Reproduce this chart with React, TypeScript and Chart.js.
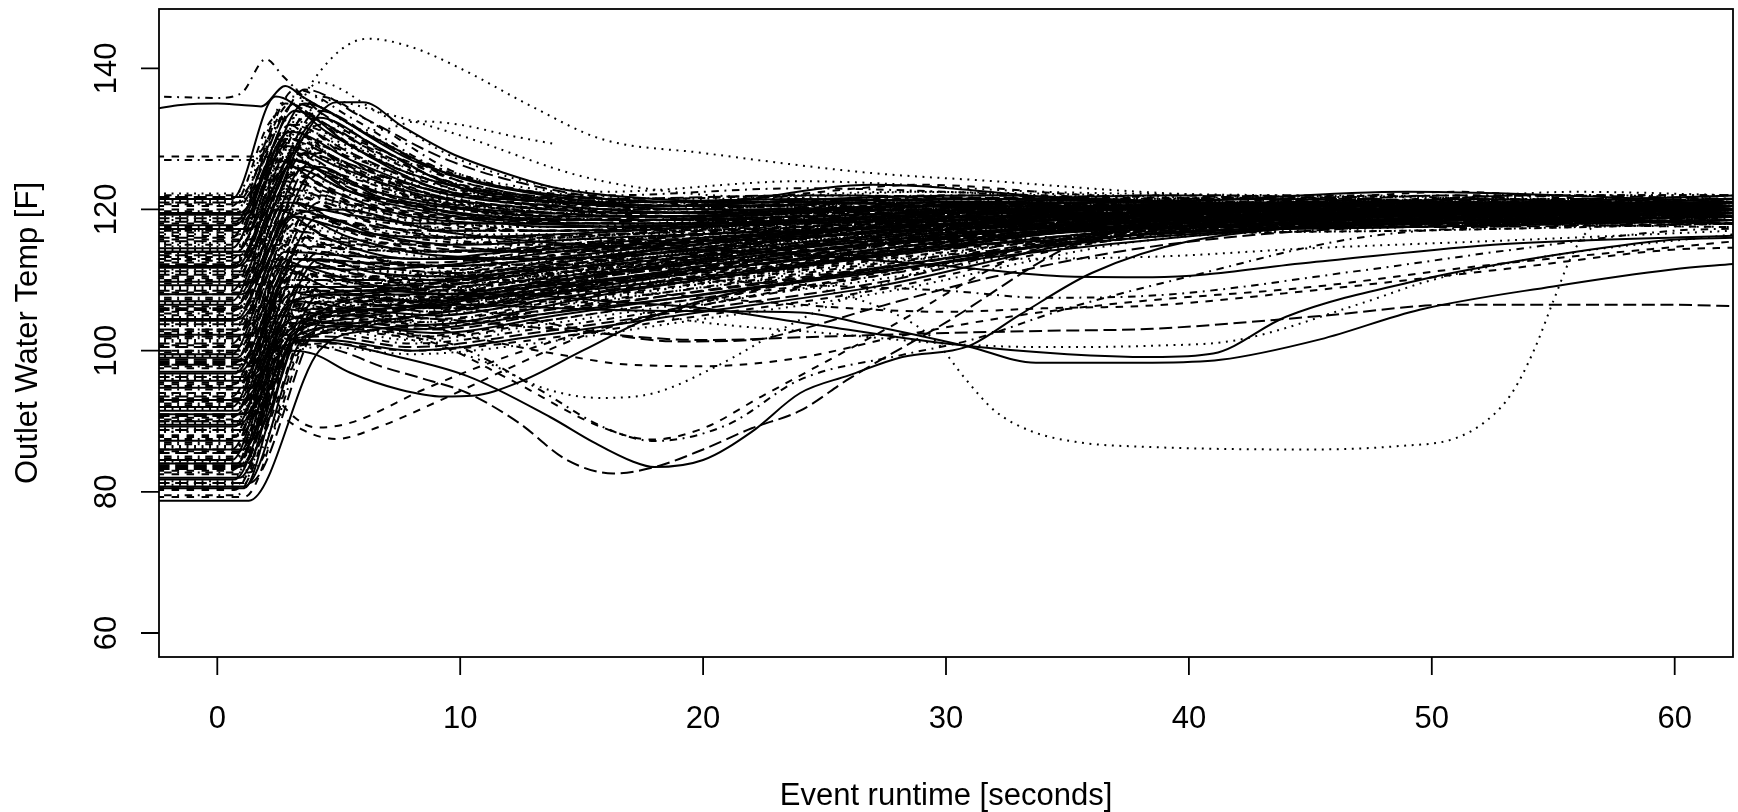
import React, { useEffect, useRef } from "react";
import { Chart, registerables } from "chart.js";
Chart.register(...registerables);

// ---------- axes ----------
const X_MIN = -2.4;
const X_MAX = 62.4;
const Y_MIN = 56.6;
const Y_MAX = 148.4;
const xTicks = [0, 10, 20, 30, 40, 50, 60];
const yTicks = [60, 80, 100, 120, 140];
const xTitle = "Event runtime [seconds]";
const yTitle = "Outlet Water Temp [F]";

// ---------- band series (start value held flat, then rise / decay) ----------
// each row: [start, then values at grid[2..]]
const gridA = [-2.5, 0.6, 2.4, 4.5, 8, 13, 19, 27, 38, 49, 62.5];
const bandA = [
  [121.5, 136, 131, 125, 121.5, 120.5, 123.5, 121, 122.5, 121],
  [120.5, 133, 128, 123.5, 120.5, 119.5, 120.5, 120.5, 119.5, 120.5],
  [119, 131, 127, 122, 120, 120, 121, 119.5, 120, 119],
  [117.5, 129, 125, 121, 119, 118.5, 119.5, 120, 121, 120],
  [116, 130, 124, 120.5, 118.5, 119, 120, 119, 118.5, 118],
  [114.5, 127, 123, 119, 118, 118, 119, 120.5, 120, 121.5],
  [113, 126, 122, 119.5, 117, 117.5, 118.5, 118.5, 119, 119.5],
  [111.5, 125, 121, 118, 116, 117, 119.5, 121, 120.5, 120],
  [110, 123, 119, 116, 115, 116.5, 118, 119, 118, 118.5],
  [108.5, 122, 118.5, 115, 114, 115.5, 117.5, 118, 119.5, 119],
  [107, 120, 116, 113, 113, 114, 117, 119.5, 120, 120.5],
  [105.5, 118, 115, 112, 111.5, 113, 116, 118.5, 119, 118],
  [104, 117, 113, 111, 110.5, 112.5, 115.5, 117.5, 118, 117.5],
  [102.5, 115, 112, 109.5, 110, 112, 115, 118.5, 119.5, 120],
  [101, 113, 110.5, 108.5, 109, 111, 114, 117.5, 117.5, 118],
  [99.5, 112, 109, 107, 108, 110, 113.5, 117.5, 118, 119],
  [98, 110, 108, 106, 107, 109.5, 113, 118, 118.5, 119.5],
  [96.5, 109, 107, 105, 106.5, 109, 112.5, 117, 118, 118.5],
  [95, 107, 106, 104, 106, 108.5, 112, 117.5, 119, 120],
  [93.5, 106, 105, 103.5, 105.5, 108, 111.5, 117, 118, 119],
  [92, 105, 104, 103, 105, 107.5, 111, 116.5, 117.5, 118.5],
  [90.5, 104, 103.5, 102, 104, 107, 110.5, 117, 118, 117.5],
  [89, 103, 103, 101.5, 103.5, 106.5, 110, 116, 117, 118],
  [87.5, 102, 102.5, 101, 103, 106, 110.5, 117, 118, 119.5],
  [86, 101, 102, 100.5, 102.5, 105.5, 109.5, 117.5, 118.5, 118],
  [84.5, 100, 101.5, 100, 102, 105, 109, 116.5, 117.5, 118.5],
  [83, 99, 101, 100, 101.5, 104.5, 108.5, 116, 117, 118],
  [81.5, 98, 100.5, 99.5, 101, 104, 108, 115.5, 117.5, 119],
];

const gridB = [-2.5, 0.9, 3.2, 5.5, 9, 14, 21, 30, 41, 52, 62.5];
const bandB = [
  [122, 137, 133, 126, 122, 121, 122, 121.5, 122, 122],
  [121, 135, 131, 124.5, 121, 120.5, 121.5, 122, 121, 121.5],
  [119.5, 134, 129, 123, 121, 120, 120.5, 120, 121.5, 120],
  [118, 132, 127, 122, 119.5, 119, 121, 120.5, 119.5, 121],
  [116.5, 130, 126, 121.5, 120, 119.5, 120, 121, 120.5, 119.5],
  [115, 131, 125, 121, 118.5, 118.5, 119.5, 119.5, 120, 120.5],
  [113.5, 128, 124, 120, 118, 119, 120.5, 120, 121, 120],
  [112, 127, 122.5, 119.5, 117.5, 118, 119, 121, 119.5, 121],
  [110.5, 125, 121, 118, 117, 118.5, 120, 119, 120, 119.5],
  [109, 124, 120, 117, 116, 117.5, 119, 120, 121, 120.5],
  [107.5, 122, 119, 116, 115, 117, 118.5, 119.5, 119, 121],
  [106, 121, 117, 115, 114, 116, 118, 120.5, 120, 119],
  [104.5, 119, 116, 113.5, 113, 115.5, 118, 119, 120.5, 120],
  [103, 118, 114, 112, 112.5, 115, 117.5, 120, 119, 121],
  [101.5, 116, 113, 111, 112, 114.5, 117, 119.5, 120, 119.5],
  [100, 115, 112, 110, 111, 114, 117.5, 118.5, 120.5, 120],
  [98.5, 113, 111, 109, 110.5, 113.5, 116.5, 119, 119.5, 120.5],
  [97, 112, 110, 108, 110, 113, 116, 120, 121, 120],
  [95.5, 111, 109, 107.5, 109, 112.5, 116.5, 118, 119, 121],
  [94, 110, 108, 107, 109, 112, 116, 119.5, 120, 119.5],
  [92.5, 109, 107.5, 106, 108.5, 111.5, 115.5, 118.5, 120.5, 120],
  [91, 108, 107, 105.5, 108, 111, 115, 119, 119.5, 121],
  [89.5, 107, 106, 105, 107.5, 110.5, 114.5, 118, 120, 120.5],
  [88, 106, 105.5, 104.5, 107, 110, 114, 117.5, 119, 119.5],
  [86.5, 105, 105, 104, 106.5, 110, 115, 118.5, 120.5, 121],
  [85, 104, 104.5, 103.5, 106, 109.5, 113.5, 117, 119, 120],
  [83.5, 103, 104, 103, 105.5, 109, 113, 118, 120, 121],
  [82, 102, 103.5, 102.5, 105, 108.5, 112.5, 116.5, 119, 119.5],
  [80.5, 101, 103, 102, 104.5, 108, 113, 117.5, 119.5, 120.5],
];

const gridC = [-2.5, 1.3, 4.2, 6.5, 10, 16, 24, 34, 44, 55, 62.5];
const bandC = [
  [121.25, 138, 134, 127, 122.5, 124, 122.5, 122, 121.5, 121.5],
  [119.75, 136, 132, 125, 122, 123, 122, 121, 122, 122],
  [118.75, 134, 130, 124, 121.5, 122, 121.5, 120.5, 121, 120.5],
  [117.25, 133, 129, 123, 121, 121.5, 121, 121.5, 120, 121],
  [115.75, 132, 128, 122.5, 120.5, 121, 120.5, 120, 120.5, 120],
  [114.25, 130, 126, 121.5, 120, 120.5, 120, 121, 121.5, 119.5],
  [112.75, 129, 125, 121, 119.5, 120, 119.5, 120.5, 119.5, 120.5],
  [111.25, 128, 124, 120.5, 119, 119.5, 121, 119.5, 120, 121],
  [109.75, 126, 122, 119.5, 118.5, 119, 120, 121, 121, 120],
  [108.25, 125, 121, 119, 118, 118.5, 119.5, 120, 119.5, 121.5],
  [106.75, 124, 120, 118, 117.5, 118, 119, 120.5, 120.5, 119],
  [105.25, 122, 119, 117, 117, 118.5, 120.5, 119, 121, 120],
  [103.75, 121, 118, 116, 116.5, 117.5, 119, 120, 119.5, 121],
  [102.25, 119, 116.5, 115, 116, 117, 118.5, 121, 120, 120.5],
  [100.75, 118, 115.5, 114, 115.5, 117.5, 120, 119.5, 120.5, 119.5],
  [99.25, 117, 114.5, 113, 115, 117, 118.5, 120, 121, 120],
  [97.75, 115, 113, 112, 114.5, 116.5, 119, 120.5, 119, 121],
  [96.25, 114, 112, 111, 114, 116, 118, 119.5, 120, 120.5],
  [94.75, 113, 111, 110.5, 113.5, 116.5, 119.5, 121, 120.5, 119.5],
  [93.25, 112, 110.5, 110, 113, 116, 118.5, 120, 121, 120],
  [91.75, 111, 110, 109.5, 112.5, 115.5, 118, 119, 120, 121],
  [90.25, 110, 109.5, 109, 112, 115, 118, 120.5, 119.5, 120.5],
  [88.75, 109, 109, 108.5, 111.5, 115, 119, 120, 120.5, 120],
  [87.25, 108, 108.5, 108, 111, 114.5, 117.5, 119.5, 121, 121],
  [85.75, 107, 108, 107.5, 111, 114, 117, 120, 120, 119.5],
  [84.25, 106, 107.5, 107, 110.5, 114, 118, 119, 119.5, 120.5],
  [82.75, 105, 107, 106.5, 110, 113.5, 117.5, 120, 120.5, 121],
  [81.25, 104, 106.5, 106, 109.5, 113, 117, 119.5, 120, 120],
  [78.75, 100, 103, 104, 108, 112, 116.5, 119, 120, 120.5],
];

const gridD = [-2.5, 0.8, 2.8, 5, 8.5, 12, 17, 23, 29, 36, 44, 51, 57, 62.5];
const bandD = [
  [120, 135, 131, 126, 123, 121.5, 122, 123.5, 122, 121.5, 122.5, 121.5, 122],
  [118.5, 133, 130, 125, 122, 121, 121.5, 122.5, 121.5, 121, 121.5, 122, 121.5],
  [117, 131, 128, 124, 121.5, 120.5, 121, 121.5, 121, 122, 121, 121.5, 120.5],
  [115.5, 130, 127, 123, 121, 120, 120.5, 121, 120.5, 121, 122, 120.5, 121],
  [114, 129, 126, 122, 120.5, 119.5, 120, 120.5, 121.5, 120.5, 120.5, 121, 120],
  [112.5, 127, 125, 121.5, 120, 119, 119.5, 120, 120, 120, 121, 120, 121.5],
  [111, 126, 124, 121, 119.5, 118.5, 119, 120.5, 119.5, 119.5, 120, 120.5, 120],
  [109.5, 124, 122, 120, 119, 118.5, 119.5, 119.5, 120, 121, 119.5, 121, 119],
  [108, 123, 121, 119, 118.5, 118, 118.5, 119, 119, 120, 120, 119, 120.5],
  [106.5, 121, 119.5, 118, 118, 117.5, 118, 118.5, 120.5, 119, 121, 120, 119.5],
  [105, 120, 118.5, 117, 117, 117, 117.5, 119, 118.5, 118.5, 119.5, 121, 120],
  [103.5, 118, 117, 116, 116.5, 116.5, 117, 118, 119, 120, 118.5, 119.5, 121],
  [102, 117, 116, 115, 115.5, 116, 117, 117.5, 118, 119.5, 120, 119, 118.5],
  [100.5, 115, 114.5, 114, 114.5, 115.5, 116.5, 118, 119.5, 118, 119, 120.5, 119.5],
  [99, 114, 113.5, 113, 114, 115, 116, 117, 118, 119, 120.5, 119, 120],
  [97.5, 113, 112.5, 112, 113, 114.5, 116, 117.5, 117.5, 118.5, 119, 118, 119],
  [96, 112, 111.5, 111, 112.5, 114, 115.5, 116.5, 118.5, 119.5, 118.5, 119.5, 120.5],
  [94.5, 111, 110.5, 110.5, 112, 113.5, 115, 117, 117.5, 118, 119.5, 120, 119],
  [93, 110, 110, 110, 111.5, 113, 114.5, 116, 118, 119, 118, 119, 118],
  [91.5, 109, 109, 109.5, 111, 112.5, 114.5, 116.5, 117.5, 118.5, 119.5, 118.5, 119.5],
  [90, 108, 108.5, 109, 110.5, 112, 114, 115.5, 117, 118, 118.5, 119.5, 120],
  [88.5, 107, 107.5, 108, 110, 112, 113.5, 116, 118, 117.5, 118.5, 118, 119],
  [87, 106, 107, 107.5, 109.5, 111.5, 113, 115, 116.5, 118.5, 119.5, 120, 118.5],
  [85.5, 105, 106, 107, 109, 111, 113, 115.5, 117, 118, 118, 119, 119.5],
  [84, 104, 105.5, 106.5, 108.5, 110.5, 112.5, 114.5, 116, 117.5, 118.5, 118.5, 118],
  [82.5, 103, 105, 106, 108, 110, 112, 114, 116.5, 118, 119, 119.5, 120],
  [81, 102, 104, 105.5, 107.5, 109.5, 112, 115, 117, 117.5, 118, 118.5, 119],
  [79.5, 100, 103, 105, 107, 109, 111.5, 114, 116, 118, 119, 119, 118.5],
];

const gridE = [-2.5, 1.1, 3.6, 6, 9.5, 13.5, 18.5, 25, 32, 39, 47, 54, 62.5];
const bandE = [
  [121.75, 137, 133, 127, 123, 121, 122, 121.5, 122, 121, 122, 121.5],
  [119.25, 135, 131, 125, 122, 120.5, 121.5, 122, 121, 120.5, 121, 122],
  [116.75, 133, 129, 124, 121.5, 120, 121, 120.5, 120.5, 121.5, 120, 121],
  [114.75, 131, 128, 123, 121, 119.5, 120, 121, 121.5, 120, 121.5, 120.5],
  [113.25, 130, 127, 122.5, 120.5, 120, 120.5, 120, 120, 121, 120.5, 119.5],
  [110.75, 128, 125, 121.5, 120, 119.5, 119.5, 121, 119.5, 120, 119.5, 121],
  [109.25, 126, 123, 120.5, 119.5, 119, 120, 119.5, 120.5, 119.5, 120.5, 120],
  [106.25, 124, 121, 119, 118.5, 118.5, 119, 120, 119, 121, 119.5, 119],
  [104.75, 122, 120, 118, 117.5, 118, 118.5, 119, 120, 119.5, 121, 120.5],
  [101.75, 119, 117.5, 116, 116, 117, 118, 118.5, 119.5, 120, 119, 120],
  [98.75, 116, 115, 114, 114.5, 116, 117.5, 119, 118.5, 119.5, 120.5, 119.5],
  [95.75, 113, 112.5, 112, 113, 115, 117, 118, 119, 118.5, 119.5, 121],
  [92.75, 110, 110, 110, 111.5, 114, 116.5, 117.5, 118.5, 120, 119, 120],
  [89.75, 108, 108.5, 108.5, 110.5, 113, 115.5, 117.5, 119, 119, 120, 119.5],
  [86.75, 106, 107, 107.5, 109.5, 112, 115, 117, 118.5, 119.5, 118.5, 120],
  [83.75, 104, 105.5, 106.5, 108.5, 111, 114, 116.5, 118, 119, 119.5, 119],
  [80.75, 102, 104, 105.5, 108, 110.5, 113.5, 116, 117.5, 118.5, 119, 120.5],
  [79.25, 101, 103.5, 105, 107, 110, 113, 115.5, 117, 118, 120, 119.5],
];

const gridF = [-2.5, 0.7, 3.0, 5.5, 9, 14, 20, 28, 37, 47, 56, 62.5];
const bandF = [
  [122.25, 136, 132, 126, 122.5, 121.5, 122.5, 122, 121, 122.5, 122],
  [120.75, 134, 130, 124.5, 121.5, 121, 121.5, 121.5, 122, 121, 121.5],
  [118.25, 132, 128, 123, 121, 120.5, 121, 120.5, 121, 121.5, 120.5],
  [117.75, 131, 127, 122.5, 120.5, 119.5, 120.5, 121, 120, 120.5, 121],
  [116.25, 130, 126, 122, 120, 119, 120, 120.5, 121.5, 120, 120],
  [115.25, 129, 125, 121.5, 119.5, 119.5, 121, 119.5, 120.5, 121, 121.5],
  [113.75, 128, 124, 121, 119, 119, 120, 120, 119.5, 120.5, 120.5],
  [112.25, 127, 123, 120, 118.5, 118.5, 119.5, 121, 120, 119.5, 119.5],
  [111.75, 126, 122.5, 120.5, 119, 119, 120.5, 119.5, 121, 120, 121],
  [110.25, 125, 121, 119, 118, 118, 119, 120, 120.5, 121, 120],
  [108.75, 123, 120, 118, 117.5, 118.5, 119.5, 120.5, 119.5, 120, 119.5],
  [107.25, 122, 119, 117.5, 117, 118, 120, 119, 120, 119.5, 121],
  [105.75, 120, 118, 117, 117, 117.5, 119, 120, 121, 120.5, 120],
  [104.25, 119, 117, 116, 116.5, 117.5, 118.5, 119.5, 119, 121, 120.5],
  [102.75, 117, 115.5, 115, 116, 117, 119, 120.5, 120, 119.5, 119],
  [101.25, 116, 114.5, 114, 115.5, 116.5, 118, 119, 120.5, 120, 120.5],
  [99.75, 114, 113.5, 113, 115, 116.5, 118.5, 120, 119.5, 121, 120],
  [98.25, 113, 112.5, 112.5, 114.5, 116, 118, 119.5, 120, 119.5, 121],
  [96.75, 112, 111.5, 112, 114, 116, 117.5, 119, 120.5, 120, 119.5],
  [95.25, 111, 110.5, 111, 113.5, 115.5, 117.5, 118.5, 119.5, 120.5, 120],
  [93.75, 110, 110, 110.5, 113, 115, 117, 119, 120, 119, 120.5],
  [92.25, 109, 109.5, 110, 112.5, 115, 118, 119.5, 119, 120, 119],
  [90.75, 108, 108.5, 109.5, 112, 114.5, 117, 118.5, 120, 121, 120],
  [89.25, 107, 108, 109, 111.5, 114, 116.5, 119, 119.5, 120, 121],
  [87.75, 106, 107, 108.5, 111, 114, 117, 118, 119, 119.5, 120],
  [86.25, 105, 106.5, 108, 110.5, 113.5, 116.5, 118.5, 120, 121, 119.5],
  [84.75, 104, 106, 107.5, 110, 113, 116, 118, 119.5, 120, 120.5],
  [83.25, 103, 105, 107, 109.5, 112.5, 115.5, 117.5, 119, 119.5, 120],
  [81.75, 102, 104.5, 106.5, 109, 112, 115.5, 118, 120, 120.5, 119],
  [80.25, 100, 103, 105.5, 108.5, 111.5, 115, 117.5, 119, 120, 120.5],
];

// ---------- individual traces ([x, y] pairs) ----------
const dottedHigh = [[-2.5, 121], [0.8, 121], [2.5, 128], [4, 138.5], [6.2, 144.2], [8, 143], [10, 140], [13, 134.5], [15.8, 130], [20, 128], [26.8, 125.2], [32, 124], [38, 122.5], [45, 121.5], [55, 121], [62.5, 120.5]];
const dotdashSpike = [[-2.5, 136], [0, 135.8], [1, 136.5], [2, 141.3], [2.7, 138.9], [4.5, 133], [7, 128], [10, 124], [15, 121], [20, 120.5], [30, 121], [40, 120.5], [50, 121], [62.5, 120.5]];
const solidTop = [[-2.5, 134.3], [-1.5, 134.8], [0, 135], [1, 134.8], [1.8, 134.6], [2.8, 137.5], [3.5, 136], [5, 133], [8, 127], [12, 123], [16, 121.5], [22, 121], [30, 121.5], [40, 121], [50, 120.5], [62.5, 121]];
const solidFlatPeak = [[-2.5, 114], [1.2, 114], [3.5, 130], [4.9, 135.2], [6, 135.2], [7.6, 131.8], [9.6, 128], [11.7, 125.3], [14, 123], [18, 121.5], [25, 121], [35, 120], [50, 121], [62.5, 120]];
const dashed127 = [[-2.5, 127.5], [1.5, 127.5], [3, 135], [4, 133], [6, 128], [9, 124], [14, 121.5], [20, 120.5], [30, 121], [45, 120], [62.5, 120.5]];
const dotdash127 = [[-2.5, 127], [1.8, 127], [3.3, 132], [5, 130], [8, 125], [12, 122], [18, 121], [30, 120], [45, 121], [62.5, 121]];
const dottedShort = [[-2.5, 113], [1, 113], [3.5, 127], [5, 131], [6.8, 131.3], [8.2, 132.5], [10, 132], [12, 130.5], [14, 129.2]];
const dotted134 = [[-2.5, 117], [1, 117], [3, 130], [4.5, 135.5], [6.7, 133.8], [10, 130.5], [15, 124.7], [19, 122.4], [25, 121.5], [35, 121], [50, 120.5], [62.5, 121]];
const dashedDip1 = [[-2.5, 99.5], [0.8, 99.5], [2.3, 92], [3.5, 88.8], [4.9, 87.5], [6.5, 89], [9.2, 93], [12, 97.5], [15, 102], [19, 106], [25, 110.5], [32, 114], [40, 117], [50, 118.5], [62.5, 119]];
const dashedDip2 = [[-2.5, 102], [0.9, 102], [2.2, 94.5], [3.2, 90.5], [4.1, 89.1], [5.5, 89.8], [8.5, 94.5], [11, 98], [14, 101.5], [18, 105], [24, 109], [30, 112.5], [38, 116], [50, 118], [62.5, 119.5]];
const solidDip93 = [[-2.5, 80.5], [1.1, 80.5], [2.2, 91], [3.1, 100], [4, 99.5], [5.45, 96.9], [7.5, 94.5], [9.3, 93.5], [10.5, 93.6], [12.4, 95.5], [15.1, 100.1], [17.9, 104.8], [21, 108], [26, 111], [32, 114], [40, 116.5], [50, 118], [62.5, 118.5]];
const longdashDip82 = [[-2.5, 84], [1.1, 84], [2.3, 95], [3.2, 101], [5, 100], [6.8, 97.7], [8.5, 96], [10.3, 94], [12.4, 89.8], [14.4, 84.5], [16.3, 82.6], [18, 83.5], [20, 86], [22, 89], [24, 91.5], [26, 96], [30, 104], [35.1, 114.8], [38, 118], [45, 119.5], [62.5, 120]];
const solidDip83 = [[-2.5, 86], [1.1, 86], [2.4, 97], [3.3, 101.5], [5, 101], [7, 99.5], [10.3, 96.4], [13.7, 90.6], [15.5, 87], [17.1, 84.3], [18, 83.5], [20, 84.5], [22, 88.5], [24, 94], [26, 96.5], [28.2, 99.1], [30.9, 100.6], [33, 105], [36, 111], [40, 115.5], [48, 118], [62.5, 119]];
const dashedDip87 = [[-2.5, 90], [1.1, 90], [2.5, 100], [3.5, 103], [6, 103], [9, 101], [12, 96], [15.8, 89.2], [17.9, 87.4], [20, 89], [22.4, 93.5], [27.5, 103], [32.9, 113.3], [37, 117.5], [45, 119], [62.5, 119.5]];
const dotdashDip87 = [[-2.5, 92], [1.1, 92], [2.6, 101], [4, 104], [7, 103], [10, 100.5], [13, 95], [16, 89], [18, 87.2], [21, 89.5], [24, 95.9], [28.2, 99.4], [31, 101.5], [35, 106], [40, 110.5], [47, 116], [55, 118], [62.5, 119.5]];
const dottedDip93 = [[-2.5, 96], [1.1, 96], [2.7, 103], [4.5, 104], [6.7, 102.6], [10.8, 98.7], [13.6, 94.5], [15.8, 93.3], [18, 94], [20.5, 97.7], [24, 104.4], [27, 109], [31, 113], [36, 116.5], [45, 118.5], [62.5, 119]];
const longdashMid = [[-2.5, 98], [1.1, 98], [2.8, 106], [4.5, 108], [8, 107], [12, 105], [15, 103], [19, 101.3], [22, 101.5], [24, 103], [27, 106], [32, 110.5], [38, 114.5], [45, 117], [62.5, 118.5]];
const dashedMid = [[-2.5, 94], [1.1, 94], [2.6, 103], [4, 105], [7, 104.5], [11, 101.5], [14, 99.5], [17, 98], [20, 97.8], [24, 99], [28, 102], [33, 105], [38, 107], [45, 109], [52, 112], [62.5, 115.5]];
const dottedDrop86 = [[-2.5, 104], [1.1, 104], [3, 112], [5, 114], [8, 112], [12, 110], [17, 109.5], [23.2, 110], [25.4, 108.2], [27.8, 105.4], [29.5, 101.6], [30.8, 96], [32, 91.5], [33.5, 88.6], [35.5, 87], [38, 86.4], [45, 86], [48.7, 86.5], [50.9, 87.5], [52.3, 90.2], [53.3, 94], [54.2, 100], [55, 107], [55.7, 113], [56.3, 116.5], [57.5, 118.5], [62.5, 119]];
const solidLow1 = [[-2.5, 93], [1, 93], [2.7, 102], [4, 105], [7, 106], [10, 106.5], [15.8, 105.8], [20, 105.6], [24, 105.4], [27, 103.5], [30.9, 100.6], [33.7, 98.3], [38.5, 98.3], [41.3, 98.7], [45.4, 101.6], [49.5, 105.8], [55, 109.1], [59.9, 111.5], [62.5, 112.3]];
const solidLow2 = [[-2.5, 91], [1.1, 91], [2.8, 101], [4.5, 106], [8, 108], [12, 108], [16, 107], [20, 106], [24, 104], [30, 101], [35, 99.5], [38.5, 99.1], [41, 99.6], [44, 104.8], [49.5, 110], [55, 113.5], [59.9, 115.7], [62.5, 116]];
const dottedLow = [[-2.5, 88.5], [1.2, 88.5], [2.9, 100], [4.5, 106], [8, 109], [13, 108], [20, 104], [25, 102.5], [30, 101], [34, 100.5], [38.5, 100.7], [42, 101.5], [47.1, 106.7], [50, 110], [55, 113.5], [62.5, 116.5]];
const longdash106 = [[-2.5, 90], [1.2, 90], [3, 101], [5, 105], [9, 104.5], [14, 103], [20, 101.5], [25, 102], [30, 102.5], [34, 102.8], [38.5, 103.1], [45.4, 104.9], [50.9, 106.5], [59.9, 106.5], [62.5, 106.3]];
const dashed114 = [[-2.5, 100], [1, 100], [2.8, 110], [5, 112], [9, 111], [15, 109], [22, 107], [30, 105.5], [34, 106], [38.5, 106.4], [45, 108.5], [53.1, 111.6], [59.9, 114.3], [62.5, 114.6]];
const dotdash117 = [[-2.5, 103], [1, 103], [2.9, 113], [5, 115], [10, 113], [16, 111], [23, 109.5], [30, 108.5], [34, 107.5], [38.5, 107.8], [47, 111.3], [53.1, 114.2], [60, 117], [62.5, 117.3]];
const solid116 = [[-2.5, 108], [1, 108], [3, 119], [5, 120], [9, 117], [15, 115], [22, 114], [30, 112], [35, 110.5], [38.5, 110.4], [45, 112.5], [53, 115.1], [62.5, 116.3]];
const dotted117 = [[-2.5, 106], [1, 106], [3, 116], [5, 118], [10, 116], [17, 114.5], [25, 113.5], [30, 113], [38.5, 113.3], [45, 114.5], [53, 115.6], [62.5, 117]];

const DASH: Record<string, number[]> = {
  solid: [],
  dashed: [7.5, 7.5],
  dotted: [1.9, 5.6],
  dotdash: [1.9, 5.6, 7.5, 5.6],
  longdash: [13, 5.6],
};
const CYCLE = ["solid", "dashed", "dotted", "dotdash", "longdash"];

const traces: [number[][], string][] = [
  [dottedHigh, "dotted"], [dotdashSpike, "dotdash"], [solidTop, "solid"], [solidFlatPeak, "solid"],
  [dashed127, "dashed"], [dotdash127, "dotdash"], [dottedShort, "dotted"], [dotted134, "dotted"],
  [dashedDip1, "dashed"], [dashedDip2, "dashed"], [solidDip93, "solid"], [longdashDip82, "longdash"],
  [solidDip83, "solid"], [dashedDip87, "dashed"], [dotdashDip87, "dotdash"], [dottedDip93, "dotted"],
  [longdashMid, "longdash"], [dashedMid, "dashed"], [dottedDrop86, "dotted"], [solidLow1, "solid"],
  [solidLow2, "solid"], [dottedLow, "dotted"], [longdash106, "longdash"], [dashed114, "dashed"],
  [dotdash117, "dotdash"], [solid116, "solid"], [dotted117, "dotted"],
];

function bandPoints(grid: number[], row: number[]) {
  const pts = [{ x: grid[0], y: row[0] }, { x: grid[1], y: row[0] }];
  for (let i = 1; i < row.length; i++) pts.push({ x: grid[i + 1], y: row[i] });
  return pts;
}

function makeDataset(data: { x: number; y: number }[], lty: string) {
  return {
    data,
    borderColor: "#000",
    borderWidth: 2,
    borderDash: DASH[lty],
    pointRadius: 0,
    fill: false,
    cubicInterpolationMode: "monotone" as const,
  };
}

const FONT = '31px "Liberation Sans", Arial, sans-serif';

const axesPlugin = {
  id: "rAxes",
  afterDraw(chart: any) {
    const { ctx, chartArea } = chart;
    const { left, top, right, bottom } = chartArea;
    const xs = chart.scales.x;
    const ys = chart.scales.y;
    ctx.save();
    ctx.setLineDash([]);
    ctx.strokeStyle = "#000";
    ctx.lineWidth = 1.8;
    ctx.strokeRect(left, top, right - left, bottom - top);
    ctx.beginPath();
    for (const v of xTicks) {
      const px = xs.getPixelForValue(v);
      ctx.moveTo(px, bottom);
      ctx.lineTo(px, bottom + 18);
    }
    for (const v of yTicks) {
      const py = ys.getPixelForValue(v);
      ctx.moveTo(left, py);
      ctx.lineTo(left - 18, py);
    }
    ctx.stroke();
    ctx.fillStyle = "#000";
    ctx.font = FONT;
    ctx.textAlign = "center";
    ctx.textBaseline = "alphabetic";
    for (const v of xTicks) {
      ctx.fillText(String(v), xs.getPixelForValue(v), 728);
    }
    for (const v of yTicks) {
      ctx.save();
      ctx.translate(116, ys.getPixelForValue(v));
      ctx.rotate(-Math.PI / 2);
      ctx.fillText(String(v), 0, 0);
      ctx.restore();
    }
    ctx.fillText(xTitle, (left + right) / 2, 805);
    ctx.save();
    ctx.translate(37, (top + bottom) / 2);
    ctx.rotate(-Math.PI / 2);
    ctx.fillText(yTitle, 0, 0);
    ctx.restore();
    ctx.restore();
  },
};

export default function App() {
  const ref = useRef<HTMLCanvasElement | null>(null);
  useEffect(() => {
    if (!ref.current) return;
    const datasets: any[] = [];
    let k = 0;
    const groups: [number[], number[][]][] = [
      [gridA, bandA], [gridB, bandB], [gridC, bandC], [gridD, bandD], [gridE, bandE], [gridF, bandF],
    ];
    for (const [grid, rows] of groups) {
      for (const row of rows) {
        datasets.push(makeDataset(bandPoints(grid, row), CYCLE[k % 5]));
        k++;
      }
    }
    for (const [pts, lty] of traces) {
      datasets.push(makeDataset(pts.map(([x, y]) => ({ x, y })), lty));
    }
    const chart = new Chart(ref.current, {
      type: "line",
      data: { datasets },
      options: {
        animation: false,
        responsive: false,
        devicePixelRatio: 1,
        events: [],
        layout: { padding: { left: 159, top: 9, right: 5, bottom: 155 } },
        scales: {
          x: { type: "linear", min: X_MIN, max: X_MAX, display: false },
          y: { type: "linear", min: Y_MIN, max: Y_MAX, display: false },
        },
        plugins: { legend: { display: false }, tooltip: { enabled: false } },
      },
      plugins: [axesPlugin],
    } as any);
    return () => chart.destroy();
  }, []);
  return (
    <div style={{ position: "fixed", left: 0, top: 0, width: 1738, height: 812, background: "#fff" }}>
      <canvas ref={ref} width={1738} height={812} style={{ display: "block" }} />
    </div>
  );
}
